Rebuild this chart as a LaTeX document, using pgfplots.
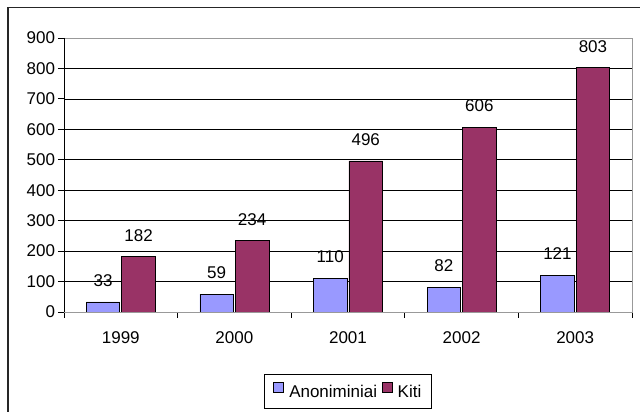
\documentclass[border=0pt]{standalone}
\usepackage{fontspec}
\setmainfont{Liberation Sans}
\usepackage{pgfplots}
\pgfplotsset{compat=1.18}
\definecolor{cA}{HTML}{9999FF}
\definecolor{cK}{HTML}{993366}
\newcommand{\cf}{\fontsize{17}{20}\selectfont}
\begin{document}
\begin{tikzpicture}[x=1pt,y=1pt]
\useasboundingbox (0,0) rectangle (640,412);
\draw[line width=1.5pt, black!85] (8,-10) -- (8,404.5) -- (660,404.5);
\begin{axis}[
 at={(64pt,100pt)}, anchor=south west,
 scale only axis, width=568pt, height=274pt,
 xmin=-0.5, xmax=4.5, ymin=0, ymax=900,
 ytick={0,100,...,900},
 xtick={-0.5,0.5,...,4.5},
 x tick label as interval,
 xticklabels={1999,2000,2001,2002,2003},
 extra y ticks={100,200,...,800},
 extra y tick labels={},
 extra y tick style={grid=major, major tick length=0pt},
 grid style={black, line width=0.7pt},
 tick align=outside, major tick length=6pt,
 xtick pos=bottom, ytick pos=left,
 tick style={black, line width=0.8pt},
 axis line style={draw=black!40, line width=0.8pt},
 /pgf/number format/assume math mode=true,
 ticklabel style={font=\cf},
 yticklabel style={xshift=0.5pt},
 xticklabel style={yshift=-10pt},
 ybar, bar width=0.295,
 nodes near coords,
 every node near coord/.append style={font=\cf, anchor=south, inner sep=0pt, yshift=15pt, black},
 legend style={at={(0.5,-0.226)}, anchor=north, draw=black, line width=0.8pt, font=\cf,
   inner xsep=8pt, inner ysep=7.5pt, legend columns=2,
   /tikz/column 1/.style={column sep=4pt},
   /tikz/column 2/.style={column sep=3pt},
   /tikz/column 3/.style={column sep=3pt}},
 legend image code/.code={\draw[#1,draw=black,line width=0.6pt] (0pt,-1pt) rectangle (10pt,9.5pt);},
]
\addplot[fill=cA, draw=black, line width=0.7pt] coordinates {(0,33) (1,59) (2,110) (3,82) (4,121)};
\addplot[fill=cK, draw=black, line width=0.7pt] coordinates {(0,182) (1,234) (2,496) (3,606) (4,803)};
\legend{Anoniminiai, Kiti}
\draw[black, line width=0.8pt] (rel axis cs:0,1) -- (rel axis cs:0,0) -- (rel axis cs:1,0);
\end{axis}
\end{tikzpicture}
\end{document}
